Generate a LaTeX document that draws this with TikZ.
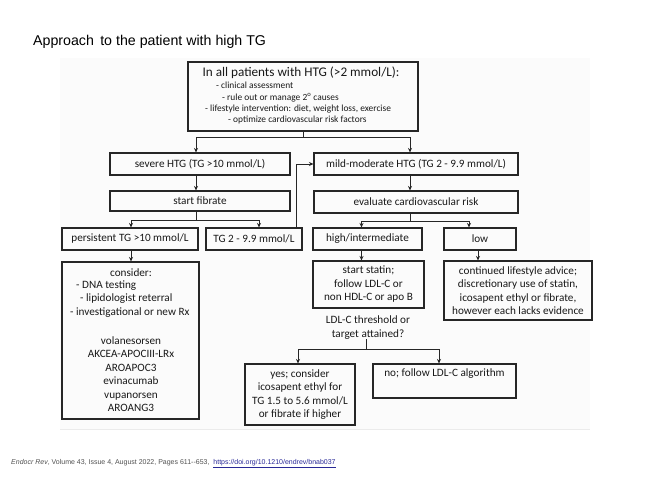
\documentclass[tikz,border=0pt]{standalone}
\usepackage{fontspec}
\setmainfont{Carlito}
\newfontfamily\arialf{Liberation Sans}
\usetikzlibrary{arrows.meta,calc}
\definecolor{linkblue}{RGB}{40,40,150}
\definecolor{foot}{RGB}{80,80,80}
\tikzset{
  box/.style={draw=black!85, line width=1.1pt, inner sep=1pt, align=center, text=black!90, font=\fontsize{11.2}{13.5}\selectfont},
  txt/.style={inner sep=0pt, align=center, text=black!90, font=\fontsize{11.2}{13.5}\selectfont},
  ln/.style={draw=black!85, line width=1pt},
  arr/.style={ln, -{Stealth[length=4.5pt,width=4pt]}},
}
\begin{document}
\begin{tikzpicture}[x=1pt,y=-1pt]
\useasboundingbox (0,0) rectangle (655,491);
\fill[black!1.5] (60,58) rectangle (590,429);
\draw[black!8, line width=0.6pt] (60,429) -- (590,429);
% title
\node[anchor=base west, inner sep=0pt, font=\arialf\fontsize{14.2}{16}\selectfont] (title) at (33,45.5) {Approach\,\ to the patient with high TG};
% top box
\node[box, minimum width=230pt, minimum height=69pt] (top) at (303,96.5) {};
\node[txt, font=\fontsize{13.2}{15}\selectfont] (topT) at (301,72.5) {In all patients with HTG (>2 mmol/L):};
\node[txt, font=\fontsize{9.4}{11.3}\selectfont, align=left, anchor=north west] (topB) at (205,82) {\hspace{11pt}- clinical assessment\\ \hspace{17pt}- rule out or manage 2\textsuperscript{o} causes\\ - lifestyle intervention: diet, weight loss, exercise\\ \hspace{23pt}- optimize cardiovascular risk factors};
% row 1
\node[box, minimum width=180pt, minimum height=22pt] (severe) at (200,164) {severe HTG (TG >10 mmol/L)};
\node[box, minimum width=204pt, minimum height=22pt] (mild) at (416,164) {mild-moderate HTG (TG 2 - 9.9 mmol/L)};
% row 2
\node[box, minimum width=180pt, minimum height=20pt] (fibrate) at (200,201) {start fibrate};
\node[box, minimum width=204pt, minimum height=22pt] (eval) at (416,202) {evaluate cardiovascular risk};
% row 3
\node[box, minimum width=136pt, minimum height=22pt] (persist) at (130,239) {persistent TG >10 mmol/L};
\node[box, minimum width=96pt, minimum height=22pt] (tg2) at (254,239) {TG 2 - 9.9 mmol/L};
\node[box, minimum width=109pt, minimum height=22pt] (high) at (367.5,239) {high/intermediate};
\node[box, minimum width=72pt, minimum height=22pt] (low) at (480,239) {low};
% row 4
\node[box, minimum width=137pt, minimum height=157pt] (consider) at (130.5,340.5) {};
\node[txt] (considerT) at (131,273) {consider:};
\node[txt, align=left, anchor=north west] (bullets) at (70,280.5) {\hspace{6pt}- DNA testing\\ \hspace{10pt}- lipidologist reterral\\ - investigational or new Rx};
\node[txt] (drugs) at (131,374) {volanesorsen\\AKCEA-APOCIII-LRx\\AROAPOC3\\evinacumab\\vupanorsen\\AROANG3};
\node[box, minimum width=111pt, minimum height=47pt] (statin) at (368.5,284.5) {start statin;\\follow LDL-C or\\non HDL-C or apo B};
\node[box, minimum width=148pt, minimum height=59pt] (life) at (518,290.5) {continued lifestyle advice;\\discretionary use of statin,\\icosapent ethyl or fibrate,\\however each lacks evidence};
\node[txt] (q) at (368,327.5) {LDL-C threshold or\\target attained?};
% row 5
\node[box, minimum width=110pt, minimum height=61pt] (yes) at (300,394.5) {yes; consider\\icosapent ethyl for\\TG 1.5 to 5.6 mmol/L\\or fibrate if higher};
\node[box, minimum width=143pt, minimum height=34pt] (no) at (444.5,381) {};
\node[txt] (noT) at (444.5,374) {no; follow LDL-C algorithm};
% footer
\node[anchor=base west, inner sep=0pt, text=foot, font=\arialf\fontsize{7}{9}\selectfont] (footer) at (11,464) {\textit{Endocr Rev}, Volume 43, Issue 4, August 2022, Pages 611--653, \ \textcolor{linkblue}{\underline{https://doi.org/10.1210/endrev/bnab037}}};
% connectors
\draw[ln] (top.south) -- ++(0,6) coordinate (j1);
\draw[arr] (j1) -| ([xshift=-4pt]severe.north);
\draw[arr] (j1) -| ([xshift=-6pt]mild.north);
\draw[arr] ([xshift=-4pt]severe.south) -- ([xshift=-4pt]fibrate.north);
\draw[ln] ([xshift=-4pt]fibrate.south) -- ++(0,9) coordinate (j2);
\draw[arr] (j2) -| ([xshift=1pt]persist.north);
\draw[arr] (j2) -| ([xshift=5pt]tg2.north);
\draw[arr] ([xshift=-6pt]tg2.north east) |- (mild.west);
\draw[arr] ([xshift=-6pt]mild.south) -- ([xshift=-6pt]eval.north);
\draw[ln] ([xshift=-6pt]eval.south) -- ++(0,8) coordinate (j3);
\draw[arr] (j3) -| ([xshift=-6pt]high.north);
\draw[arr] (j3) -| ([xshift=-11pt]low.north);
\draw[arr] ([xshift=1pt]persist.south) -- ([xshift=0.5pt]consider.north);
\draw[arr] ([xshift=-6pt]high.south) -- ([xshift=-7pt]statin.north);
\draw[arr] ([xshift=-2pt]low.south) -- ([xshift=-40pt]life.north);
\draw[ln] ([xshift=-2pt]q.south) -- ++(0,10) coordinate (j4);
\draw[arr] (j4) -| ([xshift=-2pt]yes.north);
\draw[arr] (j4) -| ([xshift=-5.5pt]no.north);
\end{tikzpicture}
\end{document}
